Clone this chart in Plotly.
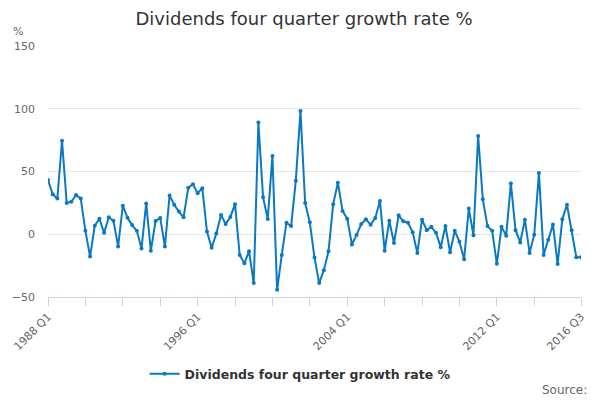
import plotly.graph_objects as go

# quarterly periods 1988 Q1 .. 2016 Q3
quarters = [f"{y} Q{q}" for y in range(1988, 2017) for q in range(1, 5)][:115]

growth = [
    43.2, 31.9, 28.4, 74.5, 24.9, 25.9, 31.3, 28.4, 2.7, -17.8,
    6.8, 12.4, 1.1, 13.5, 10.8, -9.7, 22.7, 13.2, 7.3, 2.7,
    -11.3, 24.6, -13.2, 10.5, 13.0, -9.7, 30.8, 23.5, 18.1, 13.5,
    37.0, 39.8, 32.7, 36.7, 2.2, -10.8, 0.5, 15.4, 8.1, 13.8,
    24.0, -16.5, -23.2, -13.5, -38.9, 89.1, 29.4, 12.2, 62.4, -44.3,
    -16.5, 9.2, 6.5, 42.7, 98.3, 24.9, 9.5, -18.6, -38.9, -28.6,
    -13.5, 24.0, 41.1, 18.6, 12.4, -8.1, -0.5, 8.1, 11.9, 7.6,
    13.0, 26.5, -13.2, 10.8, -7.0, 15.1, 10.3, 9.2, 1.6, -14.9,
    11.6, 3.2, 5.9, 1.1, -10.3, 6.5, -14.3, 2.7, -5.9, -20.0,
    20.5, -0.8, 78.3, 27.8, 6.5, 2.7, -23.5, 5.9, -1.1, 40.5,
    3.2, -6.5, 11.6, -14.9, -0.3, 48.9, -16.5, -4.3, 7.8, -23.8,
    11.9, 23.5, 3.2, -18.4, -18.4,
]

labelled = ["1988 Q1", "1996 Q1", "2004 Q1", "2012 Q1", "2016 Q3"]

idx = list(range(len(quarters)))
tick_idx = list(range(0, 105, 8)) + [len(quarters) - 1]
tick_txt = [quarters[i] if quarters[i] in labelled else "" for i in tick_idx]

fig = go.Figure()
fig.add_trace(go.Scatter(
    x=idx, y=growth, mode="lines+markers",
    name="Dividends four quarter growth rate %",
    line=dict(color="#0a78c4", width=2),
    marker=dict(size=4, color="#0a78c4"),
    text=quarters, hovertemplate="%{text}: %{y}<extra></extra>",
))

# page body has an 8px margin, so the figure is sized to fit the 600x400 window
fig.update_layout(
    width=592, height=392,
    margin=dict(l=40, r=19, t=38, b=103, autoexpand=False),
    paper_bgcolor="white", plot_bgcolor="white",
    font=dict(family="DejaVu Sans", color="#666666", size=11),
    title=dict(text="Dividends four quarter growth rate %", x=0.5, xanchor="center",
               y=0.974, yanchor="middle", font=dict(size=18, color="#333333")),
    showlegend=True,
    legend=dict(orientation="h", x=0.473, xanchor="center", y=-0.307, yanchor="middle",
                itemwidth=30, font=dict(size=12.5, color="#333333", weight="bold")),
    xaxis=dict(range=[0, len(quarters) - 1], tickmode="array", tickvals=tick_idx, ticktext=tick_txt,
               tickangle=-45, showgrid=False, zeroline=False, showline=True, automargin=False,
               linecolor="#ccd6eb", ticks="outside", tickcolor="#ccd6eb", ticklen=8),
    yaxis=dict(range=[-50, 150], tickvals=[-50, 0, 50, 100, 150], showgrid=True, automargin=False,
               gridcolor="#e6e6e6", zeroline=False, ticks="", ticklabelstandoff=12),
    annotations=[
        dict(text="%", xref="paper", yref="paper", x=-0.07, y=1.056, xanchor="left",
             yanchor="middle", showarrow=False, font=dict(size=11, color="#666666")),
        dict(text="Source:", xref="paper", yref="paper", x=1.015, y=-0.37, xanchor="right",
             yanchor="middle", showarrow=False, font=dict(size=12, color="#666666")),
    ],
)

fig.write_html("out.html")
